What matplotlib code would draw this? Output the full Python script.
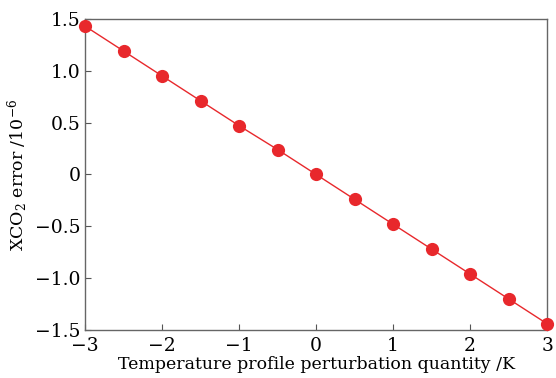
import matplotlib
matplotlib.use("Agg")
import matplotlib.pyplot as plt
from matplotlib.ticker import FixedLocator

plt.rcParams['font.family'] = ['DejaVu Serif']
plt.rcParams['mathtext.fontset'] = 'dejavuserif'

# perturbation (K) vs XCO2 error (1e-6)
perturbation = [-3, -2.5, -2, -1.5, -1, -0.5, 0, 0.5, 1, 1.5, 2, 2.5, 3]
xco2_error = [1.43, 1.19, 0.95, 0.71, 0.47, 0.24, 0.0, -0.24, -0.48, -0.72, -0.96, -1.20, -1.44]

xticks = [-3, -2, -1, 0, 1, 2, 3]
xlabels = ['\u22123', '\u22122', '\u22121', '0', '1', '2', '3']
yticks = [-1.5, -1.0, -0.5, 0, 0.5, 1.0, 1.5]
ylabels = ['\u22121.5', '\u22121.0', '\u22120.5', '0', '0.5', '1.0', '1.5']

fig = plt.figure(figsize=(5.56, 3.78), dpi=100)
ax = fig.add_axes([0.153, 0.127, 0.831, 0.823])

ax.plot(perturbation, xco2_error, color='#e8282c', lw=1.0, marker='o',
        markersize=9.5, markeredgewidth=0, clip_on=False, zorder=5)

ax.set_xlim(-3, 3)
ax.set_ylim(-1.5, 1.5)
ax.xaxis.set_major_locator(FixedLocator(xticks))
ax.set_xticklabels(xlabels)
ax.yaxis.set_major_locator(FixedLocator(yticks))
ax.set_yticklabels(ylabels)
ax.tick_params(direction='in', length=4, width=0.8, color='#555555',
               labelsize=13.5)
ax.tick_params(axis='x', pad=5)
ax.tick_params(axis='y', pad=3)
for s in ax.spines.values():
    s.set_color('#666666')
    s.set_linewidth(1.0)

ax.set_xlabel('Temperature profile perturbation quantity /K', fontsize=12.5, labelpad=1)
ax.set_ylabel(r'XCO$_2$ error /10$^{-6}$', fontsize=12.5, labelpad=4)

fig.savefig('out.png', dpi=100)
